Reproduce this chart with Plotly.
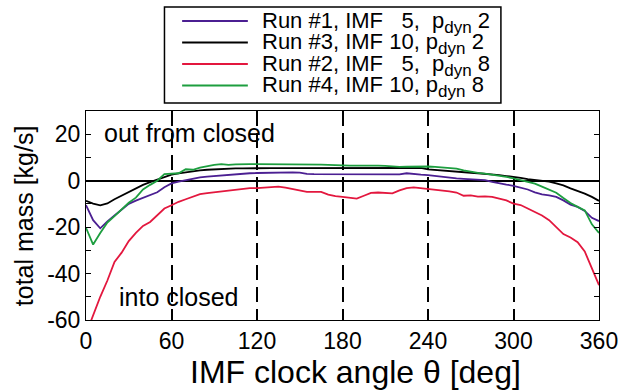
import plotly.graph_objects as go

# ---------------- data ----------------
angle = list(range(0, 365, 5))

run1_imf5_p2 = [-10.5, -17, -20.5, -17.5, -15, -12.5, -10, -8.6, -7.3, -6.1,
                -5.0, -2.8, -1.2, -0.4, 0.3, 0.9, 1.4, 1.7, 2.0, 2.3,
                2.6, 2.8, 3.0, 3.2, 3.3, 3.4, 3.4, 3.5, 3.6, 3.6,
                3.5, 2.9, 2.8, 2.8, 2.8, 2.8, 2.8, 2.7, 2.7, 2.7,
                2.7, 2.7, 2.7, 2.7, 2.7, 3.2, 2.8, 2.6, 2.4, 2.0,
                1.5, 1.2, 1.0, 0.8, 0.6, 0.4, 0.2, -0.5, -1.2, -1.7,
                -2.2, -2.9, -3.8, -5.0, -5.9, -6.3, -7.0, -8.5, -10.3, -11.3,
                -13.0, -16.0, -17.4]

run3_imf10_p2 = [-8.7, -9.9, -10.6, -9.8, -8.0, -6.5, -4.9, -3.2, -1.8, -0.6,
                 0.5, 1.6, 2.6, 3.1, 3.6, 4.1, 4.4, 4.7, 4.9, 5.0,
                 5.2, 5.3, 5.3, 5.4, 5.4, 5.4, 5.4, 5.4, 5.4, 5.4,
                 5.4, 5.4, 5.4, 5.3, 5.3, 5.2, 5.2, 5.3, 5.3, 5.3,
                 5.4, 5.4, 5.4, 5.4, 5.4, 5.4, 5.5, 5.5, 4.9, 4.6,
                 4.3, 4.1, 3.9, 3.6, 3.4, 3.2, 3.0, 2.7, 2.4, 2.0,
                 1.7, 1.2, 0.7, 0.3, -0.1, -0.4, -1.2, -2.0, -3.3, -4.3,
                 -5.6, -7.0, -8.7]

run2_imf5_p8 = [-66, -58, -50, -43, -35, -31, -26, -22.5, -19.5, -17.8,
                -15, -12, -10.6, -9.1, -8.0, -6.8, -5.8, -5.4, -5.0, -4.5,
                -4.1, -3.8, -3.5, -3.2, -3.2, -3.0, -2.8, -2.6, -3.0, -3.6,
                -4.2, -4.8, -4.8, -4.8, -6.0, -6.7, -7.0, -7.3, -7.7, -6.5,
                -5.3, -5.1, -5.3, -5.5, -4.2, -3.2, -2.9, -3.2, -3.4, -3.8,
                -4.2, -4.6, -5.1, -6.5, -6.3, -6.9, -6.8, -7.0, -7.7, -8.5,
                -9.9, -10.5, -12, -13.5, -15, -17, -20, -23, -24.5, -26.5,
                -30.5, -38, -45]

run4_imf10_p8 = [-20.3, -27.5, -22.5, -18, -15.3, -12.5, -9.5, -7.3, -3.8, -1.8,
                 0.0, 2.8, 2.9, 3.2, 4.9, 4.7, 5.6, 6.3, 6.8, 7.1,
                 6.8, 7.0, 7.2, 7.1, 7.1, 7.1, 7.2, 7.1, 7.0, 7.0,
                 6.9, 6.9, 6.9, 6.9, 6.8, 6.6, 6.4, 6.5, 6.5, 6.6,
                 6.6, 6.5, 6.4, 6.1, 5.9, 6.0, 6.1, 6.1, 6.1, 5.9,
                 5.7, 5.5, 5.2, 4.4, 3.8, 3.4, 3.0, 2.6, 2.2, 1.6,
                 1.0, 0.3, -0.3, -1.3, -2.6, -3.8, -5.2, -7.5, -9.6, -11.3,
                 -12.8, -18.8, -22.5]

SUB = "p<sub><span style='font-size:17px'>dyn</span></sub>"
series_names = ["Run #1, IMF \u20075, \u00a0" + SUB + " 2",
                "Run #3, IMF 10, " + SUB + " 2",
                "Run #2, IMF \u20075, \u00a0" + SUB + " 8",
                "Run #4, IMF 10, " + SUB + " 8"]
series_values = [run1_imf5_p2, run3_imf10_p2, run2_imf5_p8, run4_imf10_p8]
series_colors = ["#4b1f92", "#000000", "#e3173e", "#1d9e3f"]

x_ticks = [0, 60, 120, 180, 240, 300, 360]
y_ticks = [-60, -50, -40, -30, -20, -10, 0, 10, 20, 30]
y_tick_text = ["-60", "", "-40", "", "-20", "", "0", "", "20", ""]

# ---------------- layout geometry (pixels) ----------------
W, H = 630, 392
L, R, T, B = 86, 609, 111, 320
FONT = "Liberation Sans, Arial, sans-serif"


def px(xp):
    return (xp - L) / (R - L)


def py(yp):
    return (B - yp) / (B - T)


fig = go.Figure()
for name, vals, col in zip(series_names, series_values, series_colors):
    fig.add_trace(go.Scatter(x=angle, y=vals, mode="lines", name=name,
                             line=dict(color=col, width=1.8),
                             showlegend=False))

axis_common = dict(showline=True, linecolor="black", linewidth=1, mirror="ticks",
                   ticks="inside", ticklen=5, tickcolor="black",
                   tickfont=dict(family=FONT, size=23, color="black"))

fig.update_layout(
    width=W, height=H,
    margin=dict(l=L, r=W - R, t=T, b=H - B),
    paper_bgcolor="white", plot_bgcolor="white",
    font=dict(family=FONT, color="black"),
    xaxis=dict(range=[0, 360], tickmode="array", tickvals=x_ticks,
               showgrid=True, gridcolor="black", gridwidth=1.6, griddash="15px,7px",
               zeroline=False, **axis_common),
    yaxis=dict(range=[-60, 30], tickmode="array", tickvals=y_ticks, ticktext=y_tick_text,
               showgrid=False, zeroline=True, zerolinecolor="black", zerolinewidth=1.6,
               **axis_common),
)

# axis titles
fig.add_annotation(text="IMF clock angle \u03b8 [deg]", xref="paper", yref="paper",
                   x=px(361), y=py(372), xanchor="center", yanchor="middle",
                   showarrow=False, font=dict(family=FONT, size=32, color="black"))
fig.add_annotation(text="total mass [kg/s]", xref="paper", yref="paper",
                   x=px(23), y=py(216), xanchor="center", yanchor="middle", textangle=-90,
                   showarrow=False, font=dict(family=FONT, size=25, color="black"))

# in-plot labels
fig.add_annotation(text="out from closed", x=11.5, y=20.6, xanchor="left", yanchor="middle",
                   showarrow=False, font=dict(family=FONT, size=25, color="black"))
fig.add_annotation(text="into closed", x=22, y=-49.9, xanchor="left", yanchor="middle",
                   showarrow=False, font=dict(family=FONT, size=25, color="black"))

# legend box (drawn manually for compact spacing)
fig.add_shape(type="rect", xref="paper", yref="paper",
              x0=px(166), x1=px(509), y0=py(103), y1=py(7),
              line=dict(color="black", width=1.5), fillcolor="white", layer="above")
row_y = [21, 42.5, 64, 85.5]
for name, col, ry in zip(series_names, series_colors, row_y):
    fig.add_shape(type="line", xref="paper", yref="paper",
                  x0=px(184), x1=px(251), y0=py(ry), y1=py(ry),
                  line=dict(color=col, width=1.8), layer="above")
    fig.add_annotation(text=name, xref="paper", yref="paper", x=px(263), y=py(ry + 1),
                       xanchor="left", yanchor="middle", showarrow=False,
                       font=dict(family=FONT, size=22, color="black"))

fig.write_html("out.html", config={"displayModeBar": False},
               post_script="document.body.style.margin='0';document.body.style.overflow='hidden';")
